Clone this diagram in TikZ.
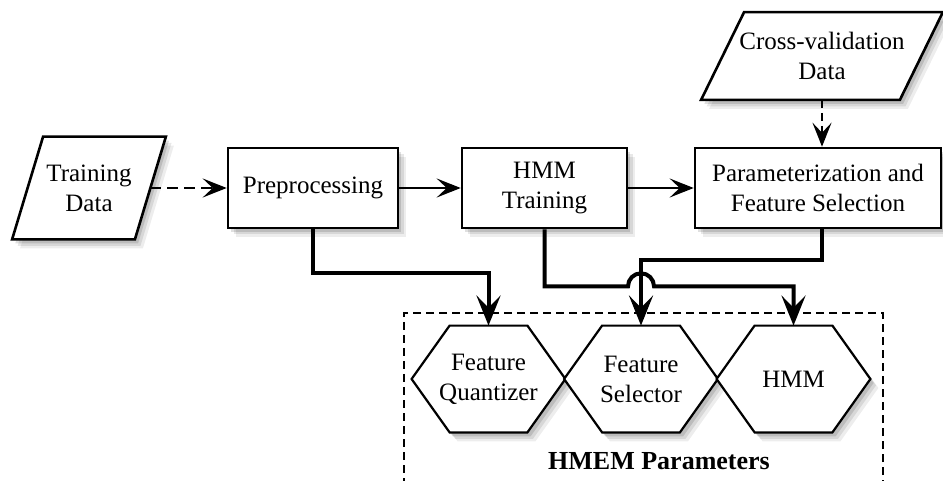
\documentclass[tikz,border=0pt]{standalone}
\usepackage{fontspec}
\setmainfont{Liberation Serif}
\usetikzlibrary{arrows.meta,calc,shadows,backgrounds}
\begin{document}
\begin{tikzpicture}[x=0.5pt,y=-0.5pt,
  txt/.style={font=\fontsize{12.5}{15}\selectfont,align=center,inner sep=0pt},
  shad/.style={
    general shadow={fill=black,opacity=0.07,shadow xshift=4pt,shadow yshift=-4.5pt},
    general shadow={fill=black,opacity=0.09,shadow xshift=2.8pt,shadow yshift=-3.2pt},
    general shadow={fill=black,opacity=0.12,shadow xshift=1.6pt,shadow yshift=-2pt}},
  procbox/.style={txt,draw,line width=1.3pt,fill=white,shad,minimum height=40pt},
  datashape/.style={draw,line width=1.3pt,fill=white,shad,line join=miter},
  hexshape/.style={draw,line width=1.1pt,fill=white,shad},
  thinarrow/.style={line width=1pt,-{Stealth[length=12pt,width=9.5pt,inset=5pt]}},
  bigarrow/.style={line width=2pt,-{Stealth[length=15pt,width=12pt,inset=6pt]}},
  dashedline/.style={dash pattern=on 5.5pt off 3pt},
  shortdash/.style={dash pattern=on 4pt off 2.5pt},
]
\useasboundingbox (0,0) rectangle (943,481);
\begin{pgfonlayer}{background}
  \fill[white] (0,0) rectangle (943,481);
\end{pgfonlayer}

% data inputs (text nodes; shapes drawn on background layer)
\node[txt,minimum width=61pt,minimum height=51pt] (td) at (89,188) {Training\\Data};
\node[txt,minimum width=99pt,minimum height=43.5pt] (cv) at (822,56) {Cross-validation\\Data};

% process boxes
\node[procbox,minimum width=85pt] (pp) at (313,188) {Preprocessing};
\node[procbox,minimum width=82.5pt] (ht) at (544.5,188) {HMM\\Training};
\node[procbox,minimum width=123pt] (pf) at (818,188) {Parameterization and\\Feature Selection};

% hexagons (text nodes)
\node[txt,minimum width=76.5pt,minimum height=53pt] (h1) at (488.5,379) {Feature\\Quantizer};
\node[txt,minimum width=76.5pt,minimum height=53pt] (h2) at (641,379) {Feature\\Selector};
\node[txt,minimum width=76.5pt,minimum height=53pt] (h3) at (793.5,379) {HMM};

\begin{pgfonlayer}{background}
  \draw[datashape] ($(td.north west)+(15.5,0)$) -- ($(td.north east)+(15.5,0)$)
     -- ($(td.south east)+(-15.5,0)$) -- ($(td.south west)+(-15.5,0)$) -- cycle;
  \draw[datashape] ($(cv.north west)+(21.5,0)$) -- ($(cv.north east)+(21.5,0)$)
     -- ($(cv.south east)+(-21.5,0)$) -- ($(cv.south west)+(-21.5,0)$) -- cycle;
  \foreach \h in {h1,h2,h3}
    \draw[hexshape] (\h.west) -- ($(\h.north west)+(38,0)$) -- ($(\h.north east)+(-38,0)$)
       -- (\h.east) -- ($(\h.south east)+(-38,0)$) -- ($(\h.south west)+(38,0)$) -- cycle;
\end{pgfonlayer}

% parameter frame
\node[draw,line width=1pt,shortdash,minimum width=239.5pt,minimum height=95pt,inner sep=0pt] (fr) at (643.5,408) {};
\node[font=\bfseries\fontsize{13}{15}\selectfont,inner sep=0pt] (lbl) at (659,461) {HMEM Parameters};

% connectors
\draw[thinarrow,dashedline] (td.east) -- (pp.west);
\draw[thinarrow] (pp.east) -- (ht.west);
\draw[thinarrow] (ht.east) -- (pf.west);
\draw[thinarrow,shortdash] (cv.south) -- (cv.south |- pf.north);
\draw[bigarrow] (pp.south) -- ++(0,44) -| (h1.north);
\draw[bigarrow] ([xshift=2pt]pf.south) -- ++(0,31) -| (h2.north);
\draw[bigarrow] (ht.south) -- ++(0,57) coordinate (hb) -- ($(hb -| h2.north)+(-13,0)$)
   arc[start angle=180,end angle=0,radius=6.5pt] -| (h3.north);
\end{tikzpicture}
\end{document}
